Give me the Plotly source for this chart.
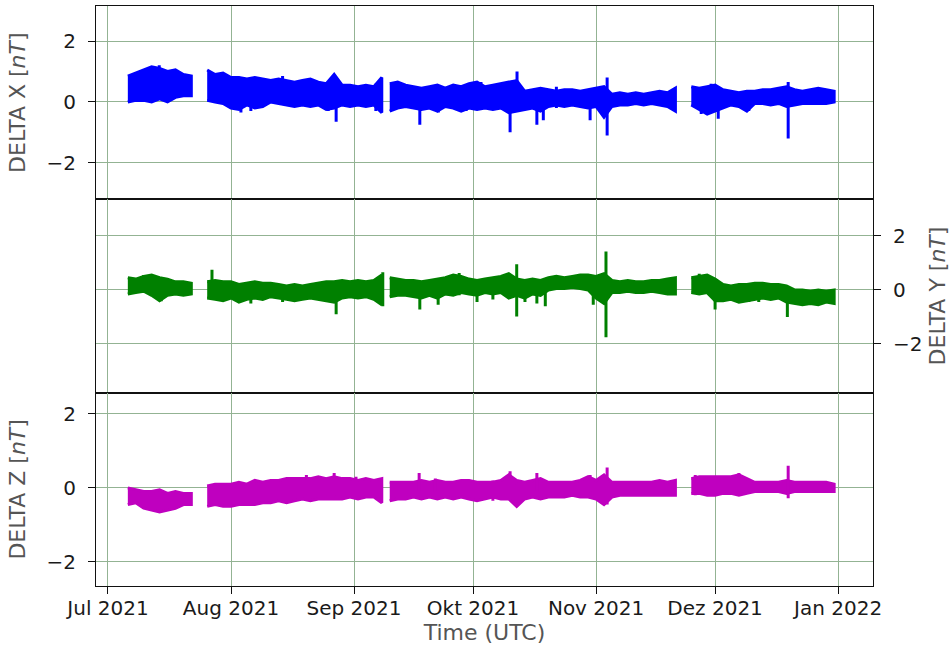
import pandas as pd
import plotly.graph_objects as go
from plotly.subplots import make_subplots

# ---- data (envelopes, 2-day steps per recording segment) ----
seg_starts = ["2021-07-06", "2021-07-26", "2021-09-10", "2021-11-25"]

x_upper = [
    [0.85, 0.95, 1.05, 1.15, 1.1, 1.0, 1.05, 0.9, 0.85],
    [1.05, 0.9, 0.95, 0.8, 0.8, 0.75, 0.8, 0.75, 0.7, 0.75, 0.7, 0.65, 0.7, 0.75, 0.65, 0.6, 0.9, 0.55, 0.55, 0.5, 0.55, 0.5, 0.8],
    [0.6, 0.65, 0.55, 0.5, 0.45, 0.5, 0.55, 0.45, 0.55, 0.5, 0.6, 0.65, 0.5, 0.55, 0.6, 0.65, 0.7, 0.35, 0.4, 0.45,
     0.4, 0.35, 0.4, 0.4, 0.35, 0.4, 0.45, 0.5, 0.25, 0.3, 0.25, 0.3, 0.25, 0.3, 0.35, 0.3, 0.45],
    [0.5, 0.45, 0.5, 0.55, 0.4, 0.35, 0.3, 0.35, 0.35, 0.4, 0.4, 0.45, 0.5, 0.4, 0.35, 0.4, 0.45, 0.4, 0.35],
]
x_lower = [
    [0.0, 0.05, 0.05, 0.0, 0.1, 0.0, 0.15, 0.2, 0.2],
    [0.05, 0.0, -0.05, -0.2, -0.25, -0.1, -0.2, -0.15, 0.0, -0.05, -0.1, -0.15, -0.1, -0.15, -0.1, -0.25, -0.2, -0.1, -0.15, -0.1, -0.15, -0.1, -0.35],
    [-0.3, -0.2, -0.15, -0.2, -0.25, -0.2, -0.3, -0.15, -0.2, -0.3, -0.2, -0.25, -0.2, -0.25, -0.2, -0.35, -0.3, -0.25, -0.2, -0.3,
     -0.15, -0.1, -0.15, -0.1, -0.15, -0.2, -0.15, -0.5, -0.15, -0.1, -0.1, -0.05, -0.1, -0.05, -0.1, -0.15, -0.3],
    [-0.1, -0.25, -0.4, -0.3, -0.2, -0.1, -0.15, -0.3, -0.05, -0.05, -0.1, -0.05, -0.15, -0.1, -0.05, -0.05, -0.05, -0.05, 0.0],
]

y_upper = [
    [0.45, 0.4, 0.5, 0.55, 0.45, 0.4, 0.3, 0.3, 0.25],
    [0.3, 0.35, 0.3, 0.3, 0.2, 0.25, 0.3, 0.25, 0.25, 0.2, 0.15, 0.2, 0.15, 0.2, 0.25, 0.3, 0.3, 0.35, 0.3, 0.35, 0.3, 0.35, 0.55],
    [0.45, 0.4, 0.35, 0.35, 0.3, 0.35, 0.4, 0.45, 0.55, 0.5, 0.4, 0.35, 0.4, 0.45, 0.5, 0.6, 0.4, 0.35, 0.4, 0.35,
     0.45, 0.5, 0.45, 0.5, 0.55, 0.55, 0.5, 0.6, 0.35, 0.3, 0.35, 0.3, 0.3, 0.35, 0.35, 0.4, 0.45],
    [0.45, 0.5, 0.55, 0.4, 0.2, 0.15, 0.2, 0.2, 0.25, 0.25, 0.2, 0.2, 0.15, 0.0, 0.0, -0.05, 0.0, -0.05, 0.0],
]
y_lower = [
    [-0.15, -0.1, -0.05, -0.2, -0.4, -0.2, -0.15, -0.2, -0.15],
    [-0.3, -0.35, -0.4, -0.3, -0.45, -0.35, -0.3, -0.35, -0.25, -0.3, -0.35, -0.4, -0.35, -0.3, -0.35, -0.4, -0.45, -0.3, -0.25, -0.3, -0.25, -0.35, -0.55],
    [-0.25, -0.2, -0.2, -0.25, -0.3, -0.2, -0.3, -0.15, -0.2, -0.1, -0.15, -0.2, -0.1, -0.15, -0.1, -0.3, -0.2, -0.3, -0.15, -0.2,
     0.0, 0.05, 0.05, 0.1, 0.05, 0.0, -0.3, -0.5, -0.1, -0.1, -0.05, -0.1, -0.1, -0.05, -0.1, -0.15, -0.15],
    [-0.1, -0.15, -0.1, -0.4, -0.4, -0.35, -0.45, -0.4, -0.35, -0.3, -0.35, -0.3, -0.45, -0.5, -0.55, -0.5, -0.55, -0.45, -0.5],
]

z_upper = [
    [0.0, -0.05, -0.1, -0.1, -0.05, -0.15, -0.1, -0.15, -0.15],
    [0.05, 0.1, 0.1, 0.1, 0.15, 0.1, 0.2, 0.15, 0.2, 0.2, 0.25, 0.25, 0.25, 0.25, 0.3, 0.25, 0.3, 0.25, 0.25, 0.2, 0.25, 0.2, 0.25],
    [0.15, 0.15, 0.15, 0.15, 0.2, 0.15, 0.2, 0.15, 0.15, 0.2, 0.2, 0.15, 0.15, 0.15, 0.2, 0.35, 0.2, 0.15, 0.2, 0.25,
     0.15, 0.15, 0.15, 0.15, 0.2, 0.3, 0.2, 0.35, 0.15, 0.15, 0.15, 0.15, 0.15, 0.15, 0.2, 0.15, 0.2],
    [0.25, 0.3, 0.3, 0.3, 0.3, 0.3, 0.35, 0.25, 0.15, 0.15, 0.15, 0.15, 0.2, 0.15, 0.15, 0.15, 0.15, 0.15, 0.1],
]
z_lower = [
    [-0.45, -0.4, -0.55, -0.6, -0.65, -0.6, -0.55, -0.45, -0.45],
    [-0.5, -0.45, -0.5, -0.5, -0.45, -0.45, -0.45, -0.4, -0.4, -0.35, -0.4, -0.35, -0.3, -0.35, -0.3, -0.3, -0.3, -0.3, -0.25, -0.3, -0.25, -0.25, -0.4],
    [-0.35, -0.3, -0.3, -0.25, -0.3, -0.25, -0.3, -0.25, -0.3, -0.25, -0.3, -0.35, -0.3, -0.25, -0.3, -0.3, -0.5, -0.3, -0.25, -0.3,
     -0.25, -0.25, -0.25, -0.2, -0.25, -0.25, -0.3, -0.45, -0.25, -0.2, -0.2, -0.2, -0.2, -0.2, -0.2, -0.2, -0.2],
    [-0.15, -0.15, -0.2, -0.2, -0.15, -0.15, -0.2, -0.15, -0.1, -0.1, -0.1, -0.1, -0.15, -0.1, -0.1, -0.1, -0.1, -0.1, -0.1],
]

# short disturbances (spikes): time, min, max
x_spike_t = ["2021-08-03 12:00", "2021-08-27 12:00", "2021-09-17 14:00", "2021-10-10 08:00", "2021-10-12 02:00",
             "2021-10-17 02:00", "2021-10-18 17:00", "2021-10-30 12:00", "2021-11-03 19:00", "2021-12-01 19:00",
             "2021-12-19 10:00", "2021-07-13 22:00", "2021-08-02 08:00", "2021-08-06 00:00", "2021-08-14 00:00",
             "2021-08-25 12:00", "2021-09-06 12:00", "2021-09-22 06:00", "2021-09-29 06:00", "2021-10-03 00:00",
             "2021-10-22 00:00", "2021-11-27 12:00", "2021-12-09 12:00", "2021-11-30 00:00"]
x_spike_lo = [-0.35, -0.65, -0.75, -1.0, 0.0, -0.75, -0.6, -0.6, -1.1, -0.55, -1.2,
              0.3, -0.25, -0.3, 0.0, -0.3, -0.3, -0.35, -0.3, -0.1, -0.2, -0.4, -0.3, -0.1]
x_spike_hi = [0.5, 0.3, 0.3, 0.3, 1.0, 0.2, 0.2, 0.2, 0.8, 0.3, 0.65,
              1.2, 0.5, 0.5, 0.85, 0.5, 0.6, 0.5, 0.5, 0.65, 0.5, 0.3, 0.3, 0.6]

y_spike_t = ["2021-07-14 10:00", "2021-07-27 05:00", "2021-08-27 12:00", "2021-09-08 06:00", "2021-09-17 14:00",
             "2021-09-22 05:00", "2021-10-02 00:00", "2021-10-12 00:00", "2021-10-14 02:00", "2021-10-17 02:00",
             "2021-10-19 05:00", "2021-10-31 07:00", "2021-11-03 12:00", "2021-12-01 00:00", "2021-12-19 05:00",
             "2021-07-10 00:00", "2021-08-06 00:00", "2021-08-14 00:00", "2021-09-27 12:00", "2021-10-06 00:00",
             "2021-11-27 00:00", "2021-12-09 12:00", "2021-12-12 00:00"]
y_spike_lo = [-0.42, -0.2, -0.9, -0.6, -0.72, -0.55, -0.45, -0.98, -0.45, -0.5, -0.6, -0.55, -1.75, -0.72, -1.0,
              -0.1, -0.5, -0.45, -0.2, -0.35, -0.1, -0.45, -0.45]
y_spike_hi = [0.3, 0.75, 0.2, 0.65, 0.2, 0.2, 0.2, 0.95, 0.2, 0.2, 0.2, 0.3, 1.42, 0.3, 0.1,
              0.55, 0.2, 0.2, 0.63, 0.2, 0.6, 0.2, 0.2]

z_spike_t = ["2021-08-27 00:00", "2021-09-17 10:00", "2021-10-10 08:00", "2021-10-12 02:00", "2021-10-17 02:00",
             "2021-10-30 12:00", "2021-11-03 19:00", "2021-12-19 10:00", "2021-08-20 00:00", "2021-09-01 12:00",
             "2021-09-21 12:00", "2021-10-06 00:00", "2021-11-26 00:00", "2021-12-07 00:00"]
z_spike_lo = [-0.2, -0.1, -0.1, -0.5, -0.1, -0.1, -0.45, -0.28, -0.3, -0.3, -0.1, -0.35, -0.2, -0.2]
z_spike_hi = [0.4, 0.4, 0.45, 0.1, 0.4, 0.35, 0.55, 0.6, 0.35, 0.3, 0.25, 0.2, 0.35, 0.4]

month_ticks = ["2021-07-01", "2021-08-01", "2021-09-01", "2021-10-01", "2021-11-01", "2021-12-01", "2022-01-01"]
month_labels = ["Jul 2021", "Aug 2021", "Sep 2021", "Okt 2021", "Nov 2021", "Dez 2021", "Jan 2022"]
y_ticks = [-2, 0, 2]
y_tick_labels = ["\u22122", "0", "2"]

series = [
    (x_upper, x_lower, x_spike_t, x_spike_lo, x_spike_hi, "#0000ff", "DELTA X [<i>nT</i>]"),
    (y_upper, y_lower, y_spike_t, y_spike_lo, y_spike_hi, "#008000", "DELTA Y [<i>nT</i>]"),
    (z_upper, z_lower, z_spike_t, z_spike_lo, z_spike_hi, "#bf00bf", "DELTA Z [<i>nT</i>]"),
]
y_ranges = [[-3.2, 3.15], [-3.8, 3.35], [-2.65, 2.57]]

# ---- figure ----
fig = make_subplots(rows=3, cols=1, shared_xaxes=True, vertical_spacing=0)
FONT = "DejaVu Sans"
GRID = "#93b393"
TICKFONT = dict(size=20, color="#1a1a1a", family=FONT)
TITLEFONT = dict(size=22, color="#555555", family=FONT)

for r, (ups, los, st, slo, shi, col, title) in enumerate(series, start=1):
    for start, up, lo in zip(seg_starts, ups, los):
        t = list(pd.date_range(start, periods=len(up), freq="2D"))
        fig.add_trace(go.Scatter(x=t + t[::-1], y=up + lo[::-1], fill="toself",
                                 fillcolor=col, mode="lines", line=dict(color=col, width=3),
                                 showlegend=False, hoverinfo="skip"), row=r, col=1)
    sx, sy = [], []
    for t, a, b in zip(st, slo, shi):
        sx += [t, t, None]
        sy += [a, b, None]
    fig.add_trace(go.Scatter(x=sx, y=sy, mode="lines", line=dict(color=col, width=3),
                             showlegend=False, hoverinfo="skip"), row=r, col=1)
    fig.update_yaxes(row=r, col=1, range=y_ranges[r - 1], tickvals=y_ticks, ticktext=y_tick_labels,
                     side="right" if r == 2 else "left", automargin=False,
                     title=dict(text=title, font=TITLEFONT, standoff=14 if r != 2 else 10),
                     showgrid=True, gridcolor=GRID, gridwidth=1.2, zeroline=False,
                     showline=True, linecolor="#111111", linewidth=1, mirror=True,
                     ticks="outside", ticklen=7, tickwidth=1, tickcolor="#111111",
                     ticklabelstandoff=8, tickfont=TICKFONT)
    fig.update_xaxes(row=r, col=1, range=["2021-06-27 23:30", "2022-01-09 19:00"],
                     tickvals=month_ticks, ticktext=month_labels, automargin=False,
                     showgrid=True, gridcolor=GRID, gridwidth=1.2, zeroline=False,
                     showline=True, linecolor="#111111", linewidth=1, mirror=True,
                     ticks="outside" if r == 3 else "", ticklen=7, tickwidth=1, tickcolor="#111111",
                     tickfont=TICKFONT)

fig.update_xaxes(row=3, col=1, ticklabelstandoff=-3,
                 title=dict(text="Time (UTC)", font=TITLEFONT, standoff=2))

fig.update_layout(width=950, height=649, margin=dict(l=96, r=77, t=6, b=63),
                  plot_bgcolor="white", paper_bgcolor="white", font=dict(family=FONT))

fig.write_html("out.html", config={"displayModeBar": False},
               post_script="document.body.style.margin='0px';")
